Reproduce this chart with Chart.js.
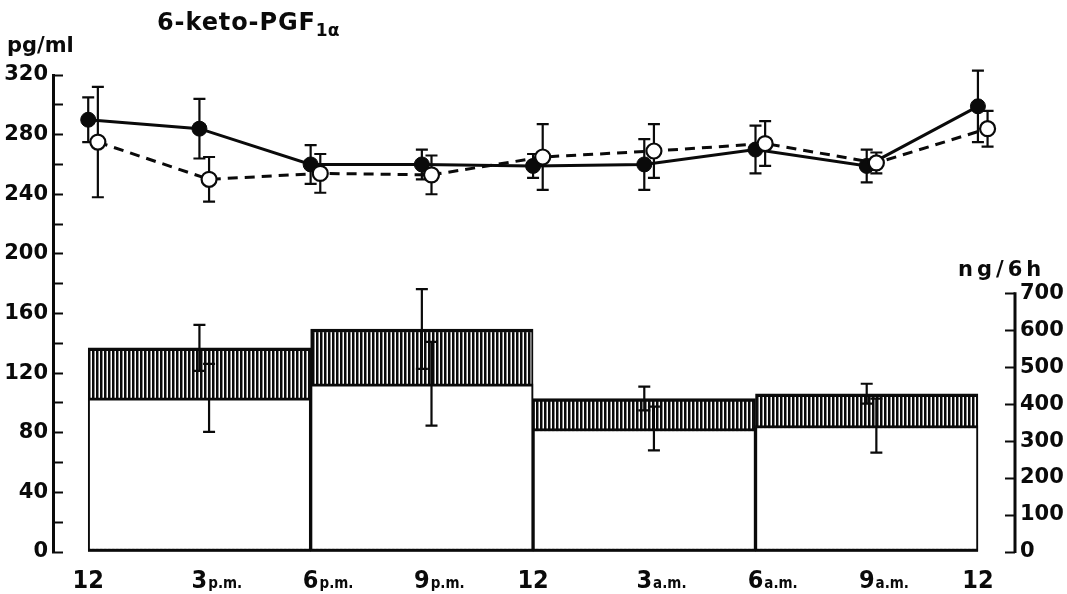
<!DOCTYPE html>
<html>
<head>
<meta charset="utf-8">
<script src="https://cdn.jsdelivr.net/npm/chart.js@4.4.1/dist/chart.umd.min.js"></script>
<style>
  html, body { margin: 0; padding: 0; background: #fff; }
  #wrap { position: relative; width: 1067px; height: 594px; }
  #chart { position: absolute; left: 0; top: 0; }
  .lbl { position: absolute; font-family: "DejaVu Sans", sans-serif; font-weight: bold; color: #0a0a0a; line-height: 1; white-space: nowrap; }
  #title { left: 157px; top: 10px; font-size: 24px; letter-spacing: 0.9px; }
  #title sub { font-size: 17px; vertical-align: baseline; position: relative; top: 6px; letter-spacing: 0; }
  #unitL { left: 7px; top: 35px; font-size: 21px; }
  #unitR { left: 958px; top: 259px; font-size: 21px; letter-spacing: 4px; }
</style>
</head>
<body>
<div id="wrap">
  <canvas id="chart" width="1067" height="594"></canvas>
  <div class="lbl" id="title">6-keto-PGF<sub>1α</sub></div>
  <div class="lbl" id="unitL">pg/ml</div>
  <div class="lbl" id="unitR">ng/6h</div>
</div>
<script>
// time of day in hours after noon
const hours = [0, 3, 6, 9, 12, 15, 18, 21, 24];
const hourNum = ['12', '3', '6', '9', '12', '3', '6', '9', '12'];
const hourSuffix = ['', 'p.m.', 'p.m.', 'p.m.', '', 'a.m.', 'a.m.', 'a.m.', ''];

// plasma, pg/ml (mean and SEM)
const filledMean = [290, 284, 260, 260, 259, 260, 270, 259, 299];
const filledSem = [15, 20, 13, 10, 8, 17, 16, 11, 24];
const openMean = [275, 250, 254, 253, 265, 269, 274, 261, 284];
const openSem = [37, 15, 13, 13, 22, 18, 15, 7, 12];

// urinary excretion per 6 h period, ng/6h
const binEdges = [0, 6, 12, 18, 24];
const binCenters = [3, 9, 15, 21];
const hatchMean = [552, 603, 415, 428];
const hatchSem = [62, 108, 32, 27];
const whiteMean = [417, 455, 334, 342];
const whiteSem = [92, 113, 59, 73];

const rightTicks = [0, 100, 200, 300, 400, 500, 600, 700];

const ink = '#0a0a0a';
const openDodge = 0.26;     // open circles sit a little right of the filled ones
const y2Max = 1290;         // puts 700 ng/6h level with ~174 pg/ml
const tickFont = { family: 'DejaVu Sans', weight: 'bold', size: 21 };
const numFont = 'bold 25px "Liberation Sans Narrow", "DejaVu Sans Condensed", sans-serif';
const sufFont = 'bold 15px "Liberation Sans Narrow", "DejaVu Sans Condensed", sans-serif';

const canvas = document.getElementById('chart');
const ctx = canvas.getContext('2d');

function makeHatch() {
    const c = document.createElement('canvas');
    c.width = 4; c.height = 4;
    const g = c.getContext('2d');
    g.fillStyle = '#fff';
    g.fillRect(0, 0, 4, 4);
    g.fillStyle = ink;
    g.fillRect(0, 0, 2.5, 4);
    return ctx.createPattern(c, 'repeat');
}

function drawErrors(chart, index) {
    const ds = chart.data.datasets[index];
    if (!ds.err) return;
    const meta = chart.getDatasetMeta(index);
    const ys = chart.scales[meta.yAxisID];
    const xs = chart.scales.x;
    const c = chart.ctx;
    c.save();
    c.strokeStyle = ink;
    c.lineWidth = 2.2;
    ds.data.forEach((p, k) => {
        const x = xs.getPixelForValue(p.x + (ds.errShift || 0));
        const top = ys.getPixelForValue(p.y + ds.err[k]);
        const bot = ys.getPixelForValue(p.y - ds.err[k]);
        c.beginPath();
        c.moveTo(x, top); c.lineTo(x, bot);
        c.moveTo(x - 6, top); c.lineTo(x + 6, top);
        c.moveTo(x - 6, bot); c.lineTo(x + 6, bot);
        c.stroke();
    });
    c.restore();
}

const errorBars = {
    id: 'errorBars',
    beforeDatasetDraw(chart, args) {
        if (chart.data.datasets[args.index].type === 'line') drawErrors(chart, args.index);
    },
    afterDatasetDraw(chart, args) {
        if (chart.data.datasets[args.index].type === 'bar') drawErrors(chart, args.index);
    }
};

// right axis only runs from 0 to 700
const rightSpine = {
    id: 'rightSpine',
    afterDraw(chart) {
        const s = chart.scales.y2;
        const c = chart.ctx;
        c.save();
        c.strokeStyle = ink;
        c.lineWidth = 3;
        c.beginPath();
        c.moveTo(s.left, s.getPixelForValue(rightTicks[0]) + 1);
        c.lineTo(s.left, s.getPixelForValue(rightTicks[rightTicks.length - 1]) - 1);
        c.stroke();
        c.restore();
    }
};

// "3p.m." style labels: big number on the tick, small suffix after it
const hourLabels = {
    id: 'hourLabels',
    afterDraw(chart) {
        const xs = chart.scales.x;
        const c = chart.ctx;
        const base = chart.chartArea.bottom + 36;
        c.save();
        c.fillStyle = ink;
        c.textAlign = 'left';
        c.textBaseline = 'alphabetic';
        hours.forEach((h, i) => {
            const x = xs.getPixelForValue(h);
            c.font = numFont;
            const w = c.measureText(hourNum[i]).width;
            c.fillText(hourNum[i], x - w / 2, base);
            if (hourSuffix[i]) {
                c.font = sufFont;
                c.fillText(hourSuffix[i], x + w / 2 + 1, base);
            }
        });
        c.restore();
    }
};

const barCommon = {
    type: 'bar',
    yAxisID: 'y2',
    borderColor: ink,
    borderSkipped: false,
    barPercentage: 1,
    categoryPercentage: 1,
    grouped: false
};

new Chart(canvas, {
    data: {
        datasets: [
            {
                ...barCommon,
                order: 4,
                data: binCenters.map((c, i) => ({ x: c, y: hatchMean[i] })),
                backgroundColor: makeHatch(),
                borderWidth: { top: 3.5, left: 2, right: 2, bottom: 2 },
                err: hatchSem,
                errShift: 0
            },
            {
                ...barCommon,
                order: 3,
                data: binCenters.map((c, i) => ({ x: c, y: whiteMean[i] })),
                backgroundColor: '#fff',
                borderWidth: { top: 3, left: 2, right: 2, bottom: 3 },
                err: whiteSem,
                errShift: openDodge
            },
            {
                type: 'line',
                yAxisID: 'y',
                order: 2,
                data: hours.map((h, i) => ({ x: h, y: filledMean[i] })),
                borderColor: ink,
                borderWidth: 3,
                pointRadius: 7.5,
                pointBackgroundColor: ink,
                pointBorderColor: ink,
                pointBorderWidth: 1,
                tension: 0,
                err: filledSem,
                errShift: 0
            },
            {
                type: 'line',
                yAxisID: 'y',
                order: 1,
                data: hours.map((h, i) => ({ x: h + openDodge, y: openMean[i] })),
                borderColor: ink,
                borderWidth: 3,
                borderDash: [10, 7],
                pointRadius: 7.5,
                pointBackgroundColor: '#fff',
                pointBorderColor: ink,
                pointBorderWidth: 2.2,
                tension: 0,
                err: openSem,
                errShift: 0
            }
        ]
    },
    options: {
        responsive: false,
        animation: false,
        layout: { padding: { top: 75, bottom: 42, left: 0, right: 0 } },
        plugins: { legend: { display: false }, tooltip: { enabled: false } },
        scales: {
            x: {
                type: 'linear',
                display: false,
                offset: false,
                min: -0.95,
                max: 25,
                // bar width follows the 6-hour collection periods
                afterBuildTicks: s => { s.ticks = binEdges.map(v => ({ value: v })); }
            },
            y: {
                position: 'left',
                min: 0,
                max: 320,
                ticks: {
                    stepSize: 20,
                    autoSkip: false,
                    padding: 15,
                    color: ink,
                    font: tickFont,
                    callback: v => (v % 40 === 0 ? v : '')
                },
                grid: { drawOnChartArea: false, tickLength: -10, tickWidth: 2, color: ink },
                border: { display: true, width: 3, color: ink },
                afterFit: s => { s.width = 53; }
            },
            y2: {
                position: 'right',
                min: 0,
                max: y2Max,
                afterBuildTicks: s => { s.ticks = rightTicks.map(v => ({ value: v })); },
                ticks: { autoSkip: false, padding: 15, color: ink, font: tickFont },
                grid: { drawOnChartArea: false, tickLength: -10, tickWidth: 2, color: ink },
                border: { display: false },
                afterFit: s => { s.width = 52; }
            }
        }
    },
    plugins: [errorBars, rightSpine, hourLabels]
});
</script>
</body>
</html>
